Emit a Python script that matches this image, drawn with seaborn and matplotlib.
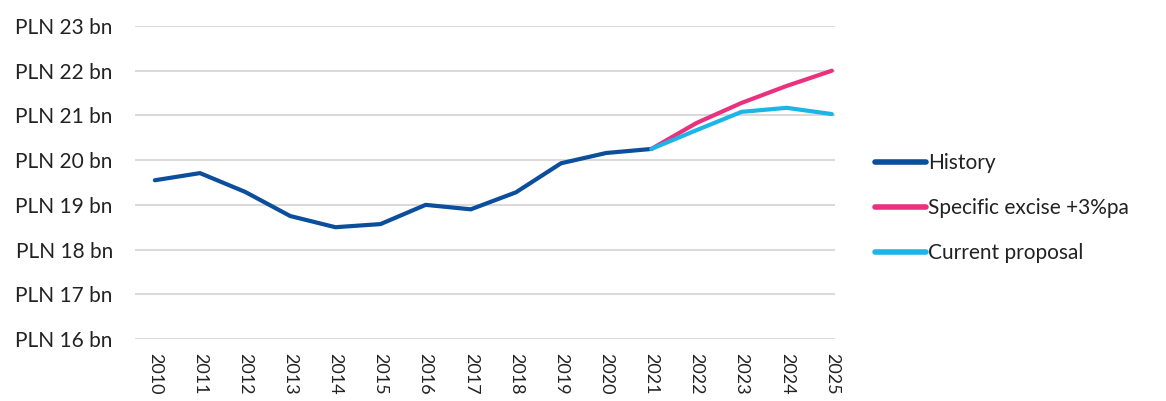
import matplotlib
matplotlib.use("Agg")
import matplotlib.pyplot as plt
import pandas as pd
import seaborn as sns

# ── Data ──────────────────────────────────────────────────────────────────────
YEARS_HIST = list(range(2010, 2022))
HISTORY = [19.55, 19.71, 19.29, 18.75, 18.50, 18.57, 19.00, 18.90, 19.28, 19.93, 20.16, 20.25]

YEARS_PROJ = [2021, 2022, 2023, 2024, 2025]
SPECIFIC = [20.25, 20.83, 21.28, 21.66, 22.00]
CURRENT = [20.25, 20.67, 21.08, 21.17, 21.03]

Y_TICKS = list(range(16, 24))
X_TICKS = list(range(2010, 2026))

SERIES = ["History", "Specific excise +3%pa", "Current proposal"]
COLORS = ["#0B4E9B", "#E9317E", "#1DB4E8"]

df = pd.concat([
    pd.DataFrame({"year": YEARS_HIST, "value": HISTORY, "series": SERIES[0]}),
    pd.DataFrame({"year": YEARS_PROJ, "value": SPECIFIC, "series": SERIES[1]}),
    pd.DataFrame({"year": YEARS_PROJ, "value": CURRENT, "series": SERIES[2]}),
], ignore_index=True)

# ── Plot ──────────────────────────────────────────────────────────────────────
sns.set_style("white")
plt.rcParams["font.family"] = ["Lato", "DejaVu Sans"]
FS = 15

fig = plt.figure(figsize=(11.66, 4.01), dpi=100)
ax = fig.add_axes([135 / 1166, 1 - 339 / 401, 700 / 1166, 313 / 401])

sns.lineplot(
    data=df, x="year", y="value", hue="series", hue_order=SERIES,
    palette=dict(zip(SERIES, COLORS)), linewidth=3.0, ax=ax,
    solid_capstyle="round",
)

ax.set_xlim(2009.56, 2025.07)
ax.set_ylim(16, 23)
ax.set_yticks(Y_TICKS)
ax.set_yticklabels([f"PLN {v} bn" for v in Y_TICKS], fontsize=FS, color="#222222")
ax.set_xticks(X_TICKS)
# year labels a little smaller than the reference so they stay inside the image
ax.set_xticklabels([str(y) for y in X_TICKS], rotation=270, fontsize=13,
                   color="#222222", va="top")
ax.tick_params(axis="y", length=0, pad=16)
ax.tick_params(axis="x", length=0, pad=10)
ax.grid(axis="y", color="#D9D9D9", linewidth=1.4)
ax.grid(axis="x", visible=False)
for s in ax.spines.values():
    s.set_visible(False)
ax.set_xlabel("")
ax.set_ylabel("")

ax.legend(
    loc="center left", frameon=False, fontsize=FS, handlelength=2.45,
    handletextpad=0.1, labelspacing=1.2,
)
leg = ax.get_legend()
leg.set_bbox_to_anchor((856 / 1166, 1 - 208 / 401), transform=fig.transFigure)
for line in leg.get_lines():
    line.set_linewidth(4)
for t in leg.get_texts():
    t.set_color("#222222")

fig.savefig("out.png", dpi=100)
